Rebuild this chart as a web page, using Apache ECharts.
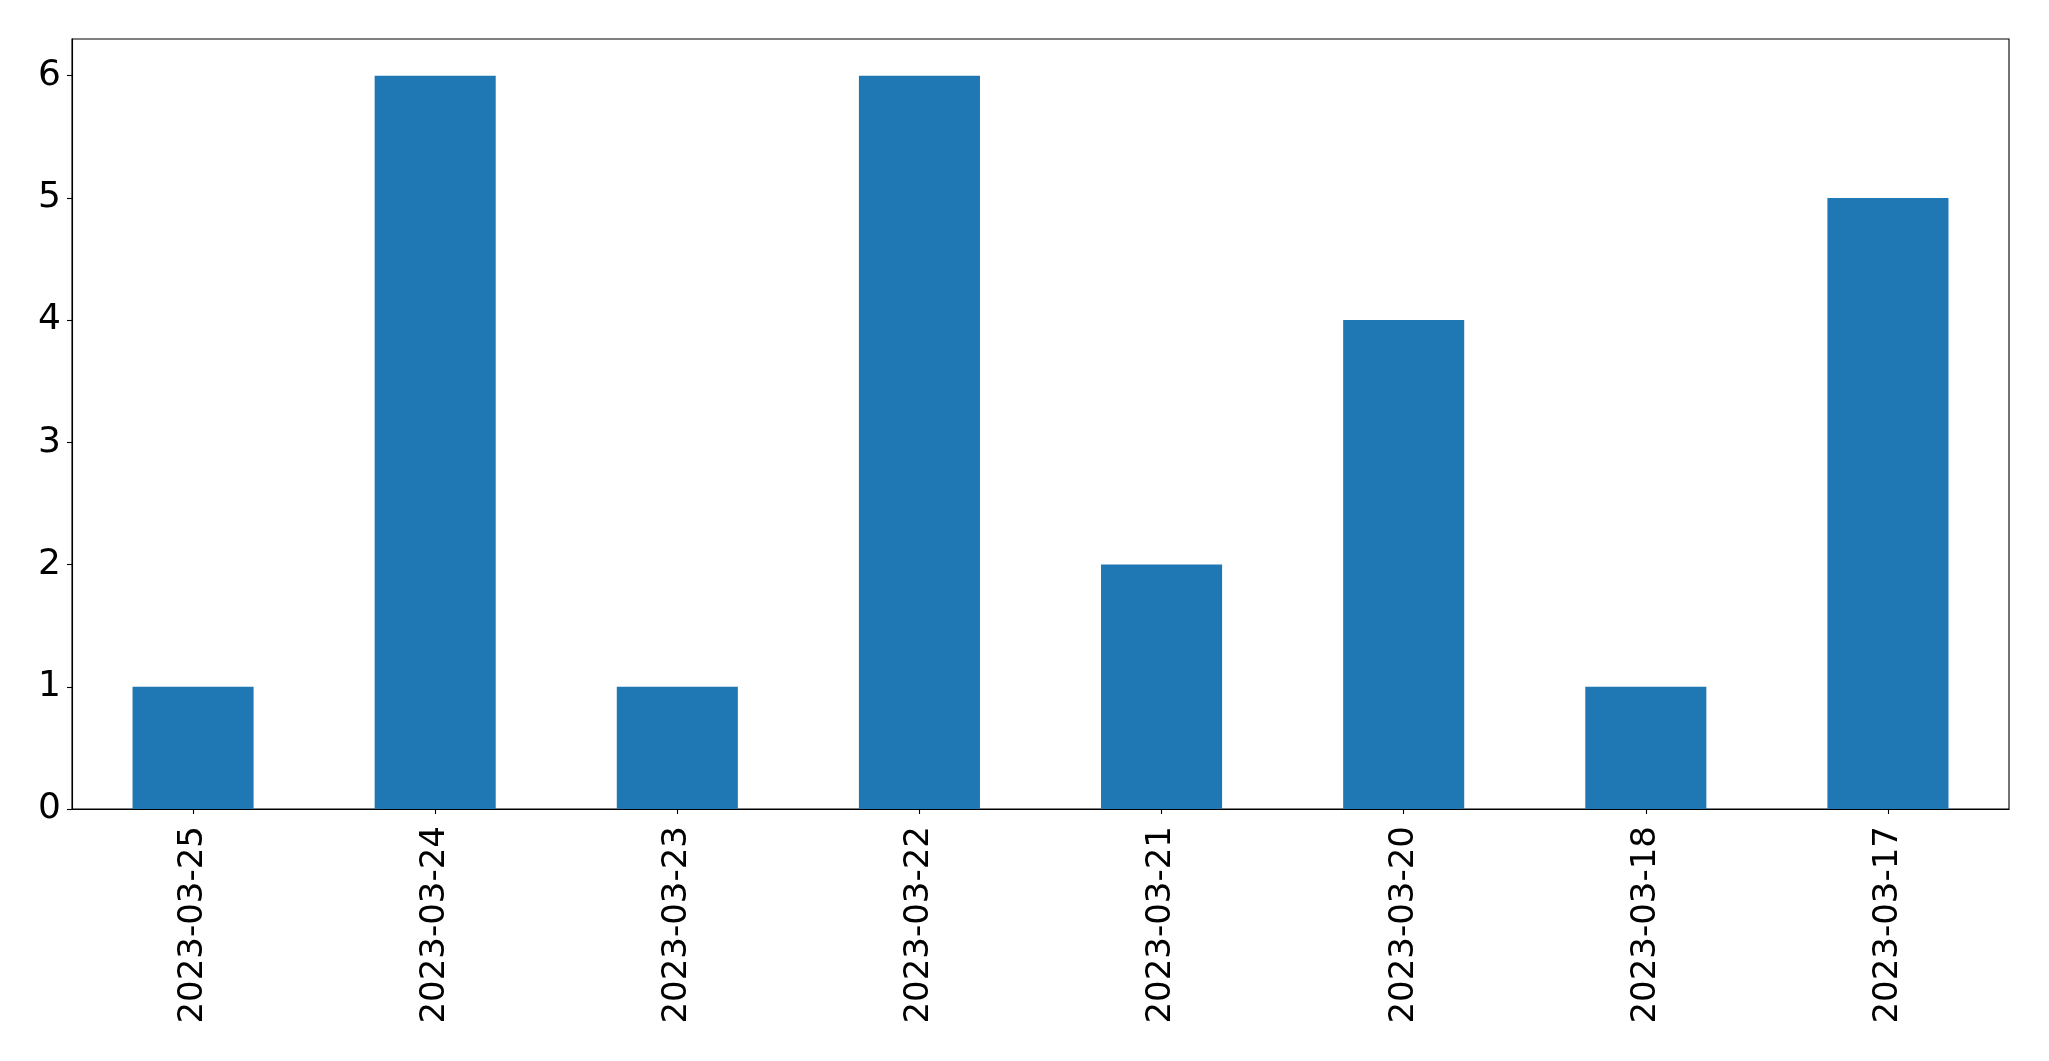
<!DOCTYPE html>
<html>
<head>
<meta charset="utf-8">
<script src="https://cdn.jsdelivr.net/npm/echarts@6/dist/echarts.min.js"></script>
<style>
html,body{margin:0;padding:0;background:#fff;}
#chart{width:2049px;height:1061px;}
</style>
</head>
<body>
<div id="chart"></div>
<script>
const categories = ["2023-03-25","2023-03-24","2023-03-23","2023-03-22","2023-03-21","2023-03-20","2023-03-18","2023-03-17"];
const values = [1, 6, 1, 6, 2, 4, 1, 5];
const yTicks = [0, 1, 2, 3, 4, 5, 6];

const chart = echarts.init(document.getElementById('chart'), null, {renderer: 'canvas'});
chart.setOption({
  animation: false,
  backgroundColor: '#fff',
  grid: {left: 72, right: 40, top: 39, bottom: 252, show: true, borderColor: '#000', borderWidth: 1.1, backgroundColor: 'transparent'},
  xAxis: {
    type: 'category',
    data: categories,
    boundaryGap: true,
    axisLine: {show: true, lineStyle: {color: '#000', width: 1.1}},
    axisTick: {show: true, alignWithLabel: true, length: 5, lineStyle: {color: '#000', width: 1.1}},
    axisLabel: {rotate: 90, margin: 17, interval: 0, fontFamily: 'DejaVu Sans', fontSize: 34, color: '#000'},
    splitLine: {show: false}
  },
  yAxis: {
    type: 'value',
    min: 0,
    max: 6.3,
    interval: 1,
    axisLine: {show: true, lineStyle: {color: '#000', width: 1.1}},
    axisTick: {show: true, length: 5, customValues: yTicks, lineStyle: {color: '#000', width: 1.1}},
    axisLabel: {margin: 11, customValues: yTicks, fontFamily: 'DejaVu Sans', fontSize: 36, color: '#000',
      padding: [10, 0, 0, 0],
      formatter: v => Number.isInteger(v) ? String(v) : ''},
    splitLine: {show: false}
  },
  series: [{
    type: 'bar',
    data: values,
    barWidth: '50%',
    itemStyle: {color: '#1f77b4'}
  }]
});
</script>
</body>
</html>
